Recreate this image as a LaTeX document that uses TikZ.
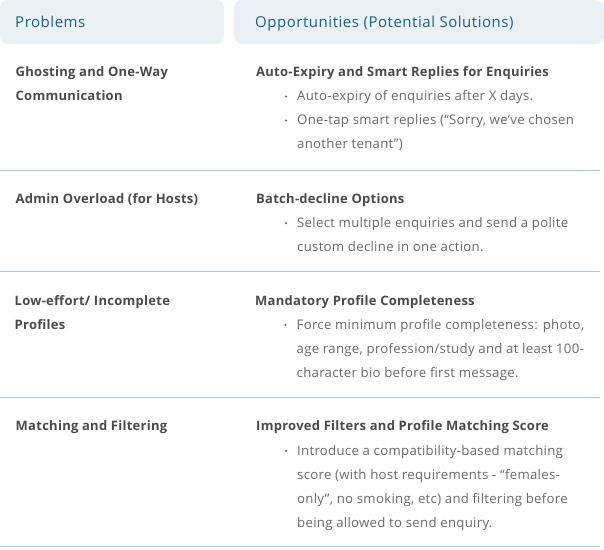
\documentclass[tikz,border=0pt]{standalone}
\usepackage{fontspec}
\setmainfont{Open Sans}
\newfontfamily\hdrfont[LetterSpace=3.6]{Open Sans}
\newfontfamily\ttlfont[LetterSpace=2.1]{Open Sans}
\newfontfamily\bulfont[LetterSpace=2.2]{Open Sans}
\definecolor{hdrfill}{HTML}{EAF1F5}
\definecolor{hdrtext}{HTML}{1F5E8A}
\definecolor{rule}{HTML}{A3C5D7}
\definecolor{titletext}{HTML}{4A4A4A}
\definecolor{bodytext}{HTML}{6A6A6A}
\tikzset{
  hdrbox/.style={fill=hdrfill, rounded corners=8pt},
  hdr/.style={anchor=base west, inner sep=0pt, text=hdrtext, font=\hdrfont\fontsize{15}{17}\selectfont},
  ttl/.style={anchor=base west, inner sep=0pt, text=titletext, font=\ttlfont\fontsize{13}{15}\selectfont\bfseries},
  bul/.style={anchor=base west, inner sep=0pt, text=bodytext, font=\bulfont\fontsize{13.2}{15}\selectfont},
  dot/.style={circle, fill=bodytext, inner sep=0pt, minimum size=2.4pt},
  sep/.style={draw=rule, line width=1.1pt}
}
\begin{document}
\begin{tikzpicture}[x=1pt,y=-1pt]
\useasboundingbox (0,0) rectangle (604,549);
\fill[white] (0,0) rectangle (604,549);
% header
\fill[hdrbox] (0,0) rectangle (224,44);
\fill[hdrbox] (234,0) rectangle (604,44);
\node[hdr] (h1) at (15,27.3) {Problems};
\node[hdr] (h2) at (255,27.3) {Opportunities (Potential Solutions)};
% row 1
\node[ttl] (p1a) at (15.5,76.7) {Ghosting and One-Way};
\node[ttl] (p1b) at (15.5,100.7) {Communication};
\node[ttl] (s1) at (256,76.7) {Auto-Expiry and Smart Replies for Enquiries};
\node[dot] (d11) at (286,96.5) {};
\node[bul] (b11) at (297,100.7) {Auto-expiry of enquiries after X days.};
\node[dot] (d12) at (286,120.5) {};
\node[bul] (b12a) at (297,124.7) {One-tap smart replies (“Sorry, we’ve chosen};
\node[bul] (b12b) at (297,148.7) {another tenant”)};
\coordinate (l1a) at (0,170.5); \coordinate (l1b) at (600,170.5);
\draw[sep] (l1a) -- (l1b);
% row 2
\node[ttl] (p2) at (15.5,203.3) {Admin Overload (for Hosts)};
\node[ttl] (s2) at (256,203.3) {Batch-decline Options};
\node[dot] (d21) at (286,223.1) {};
\node[bul] (b21a) at (297,227.3) {Select multiple enquiries and send a polite};
\node[bul] (b21b) at (297,251.3) {custom decline in one action.};
\coordinate (l2a) at (0,271.8); \coordinate (l2b) at (600,271.8);
\draw[sep] (l2a) -- (l2b);
% row 3
\node[ttl] (p3a) at (14.5,305) {Low-effort/ Incomplete};
\node[ttl] (p3b) at (14.5,329) {Profiles};
\node[ttl] (s3) at (255,305) {Mandatory Profile Completeness};
\node[dot] (d31) at (285.5,324.8) {};
\node[bul] (b31a) at (296.5,329) {Force minimum profile completeness: photo,};
\node[bul] (b31b) at (296.5,353) {age range, profession/study and at least 100-};
\node[bul] (b31c) at (296.5,377) {character bio before first message.};
\coordinate (l3a) at (0,397.7); \coordinate (l3b) at (600,397.7);
\draw[sep] (l3a) -- (l3b);
% row 4
\node[ttl] (p4) at (15.5,430.7) {Matching and Filtering};
\node[ttl] (s4) at (256,430.7) {Improved Filters and Profile Matching Score};
\node[dot] (d41) at (286,450.8) {};
\node[bul] (b41a) at (297,455) {Introduce a compatibility-based matching};
\node[bul] (b41b) at (297,479) {score (with host requirements - “females-};
\node[bul] (b41c) at (297,503) {only”, no smoking, etc) and filtering before};
\node[bul] (b41d) at (297,527) {being allowed to send enquiry.};
\coordinate (l4a) at (0,546.7); \coordinate (l4b) at (600,546.7);
\draw[sep] (l4a) -- (l4b);
\end{tikzpicture}
\end{document}
